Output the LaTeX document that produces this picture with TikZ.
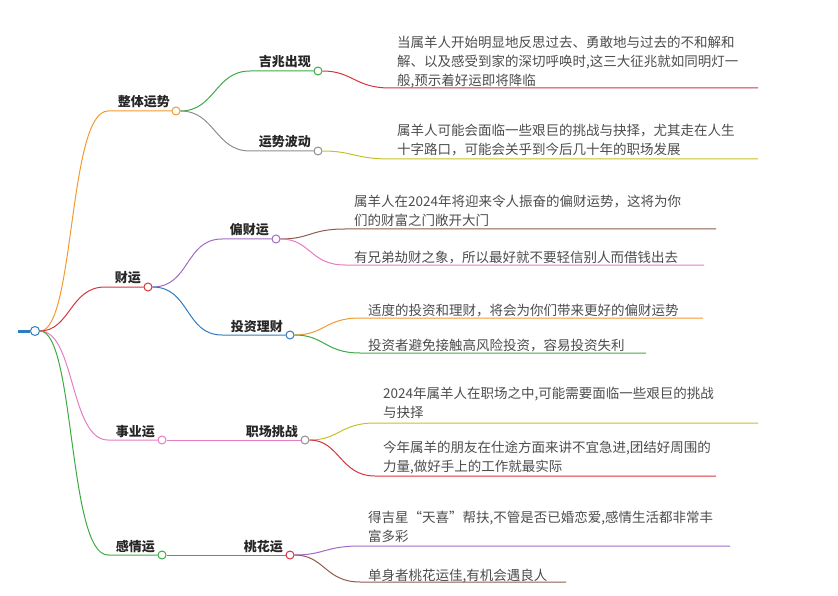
\documentclass[tikz,border=0pt]{standalone}
\usepackage{fontspec}
\setmainfont{Noto Sans CJK SC}
\usetikzlibrary{calc}
\definecolor{cor}{HTML}{F39A2E}
\definecolor{cred}{HTML}{D7343C}
\definecolor{cpink}{HTML}{E47CC4}
\definecolor{cgreen}{HTML}{3DAA45}
\definecolor{cpur}{HTML}{A06BC6}
\definecolor{cblue}{HTML}{2E7CC0}
\definecolor{cgray}{HTML}{8E8E8E}
\definecolor{colive}{HTML}{C6C02A}
\definecolor{cbrown}{HTML}{8E5B4C}
\begin{document}
\begin{tikzpicture}[x=1pt,y=-1pt,
  lab/.style={font=\fontsize{13}{15}\selectfont\bfseries,text=black!85,anchor=base east,inner sep=0},
  leaf/.style={font=\fontsize{13.5}{19}\selectfont,text=black!70,anchor=base west,inner sep=0,align=left},
  mleaf/.style={leaf,anchor=north west},
  dot/.style={circle,draw=#1,fill=white,line width=1pt,minimum size=8pt,inner sep=0},
  ln/.style={line width=1pt,#1}]
\useasboundingbox (0,0) rectangle (838,596);
% root
\node[circle,draw=cblue,fill=white,line width=1pt,minimum size=9pt,inner sep=0] (root) at (35,331) {};
\draw[cblue,line width=3pt] (18,331) -- (root.west);
% level 1
\node[dot=cor] (z) at (176,111) {};
\node[dot=cred] (c) at (148,287) {};
\node[dot=cpink] (s) at (162,440) {};
\node[dot=cgreen] (g) at (162,555) {};
\node[lab] at (170,107) {整体运势};
\node[lab] at (141,282) {财运};
\node[lab] at (155,436) {事业运};
\node[lab] at (155,551) {感情运};
\coordinate (z0) at (108,111); \coordinate (c0) at (105,287);
\coordinate (s0) at (108,440); \coordinate (g0) at (108,555);
\draw[ln=cor] (root.east) .. controls (75,331) and (68,111) .. (z0) -- (z.west);
\draw[ln=cred] (root.east) .. controls (70,331) and (70,287) .. (c0) -- (c.west);
\draw[ln=cpink] (root.east) .. controls (75,331) and (70,440) .. (s0) -- (s.west);
\draw[ln=cgreen] (root.east) .. controls (75,331) and (68,555) .. (g0) -- (g.west);
% level 2
\node[dot=cgreen] (j) at (318,71) {};
\node[dot=cgray] (y) at (318,151) {};
\node[dot=cpur] (p) at (276,239) {};
\node[dot=cblue] (t) at (290,335) {};
\node[dot=cgray] (zc) at (305,440) {};
\node[dot=cred] (th) at (290,555) {};
\node[lab] at (311,67) {吉兆出现};
\node[lab] at (311,147) {运势波动};
\node[lab] at (269,235) {偏财运};
\node[lab] at (283,331) {投资理财};
\node[lab] at (298,436) {职场挑战};
\node[lab] at (283,551) {桃花运};
\coordinate (j0) at (250,71); \coordinate (y0) at (250,151);
\coordinate (p0) at (222,239); \coordinate (t0) at (222,335);
\coordinate (zc0) at (222,440); \coordinate (th0) at (222,555);
\draw[ln=cgreen] (z.east) .. controls (215,111) and (215,71) .. (j0) -- (j.west);
\draw[ln=cgray] (z.east) .. controls (215,111) and (215,151) .. (y0) -- (y.west);
\draw[ln=cpur] (c.east) .. controls (190,287) and (185,239) .. (p0) -- (p.west);
\draw[ln=cblue] (c.east) .. controls (190,287) and (185,335) .. (t0) -- (t.west);
\draw[ln=cpink] (s.east) -- (zc.west);
\draw[ln=cgreen] (g.east) -- (th.west);
% leaves
\newcommand\leafline[6]{%
  \coordinate (#6a) at (#4,#3); \coordinate (#6b) at (#5,#3);
  \draw[ln=#2] (#1.east) .. controls ($(#1.east)+(30,0)$) and ($(#6a)+(-35,0)$) .. (#6a) -- (#6b);}
\leafline{j}{cred}{88}{390}{758}{la}
\node[mleaf] at (397,36) {当属羊人开始明显地反思过去、勇敢地与过去的不和解和\\解、以及感受到家的深切呼唤时,这三大征兆就如同明灯一\\般,预示着好运即将降临};
\leafline{y}{colive}{159}{390}{758}{lb}
\node[mleaf] at (397,124) {属羊人可能会面临一些艰巨的挑战与抉择，尤其走在人生\\十字路口，可能会关乎到今后几十年的职场发展};
\leafline{p}{cbrown}{229}{345}{716}{lc}
\node[mleaf] at (354,195) {属羊人在2024年将迎来令人振奋的偏财运势，这将为你\\们的财富之门敞开大门};
\leafline{p}{cpink}{265}{345}{704}{ld}
\node[leaf] at (354,262) {有兄弟劫财之象，所以最好就不要轻信别人而借钱出去};
\leafline{t}{cor}{318}{360}{703}{le}
\node[leaf] at (368,315) {适度的投资和理财，将会为你们带来更好的偏财运势};
\leafline{t}{cgreen}{353}{360}{646}{lf}
\node[leaf] at (368,350) {投资者避免接触高风险投资，容易投资失利};
\leafline{zc}{colive}{423}{375}{758}{lg}
\node[mleaf] at (383,387) {2024年属羊人在职场之中,可能需要面临一些艰巨的挑战\\与抉择};
\leafline{zc}{cred}{476}{375}{716}{lh}
\node[mleaf] at (383,441) {今年属羊的朋友在仕途方面来讲不宜急进,团结好周围的\\力量,做好手上的工作就最实际};
\leafline{th}{cpur}{546}{360}{730}{li}
\node[mleaf] at (368,511) {得吉星“天喜”帮扶,不管是否已婚恋爱,感情生活都非常丰\\富多彩};
\leafline{th}{cbrown}{582}{360}{566}{lj}
\node[leaf] at (368,580) {单身者桃花运佳,有机会遇良人};
\end{tikzpicture}
\end{document}
